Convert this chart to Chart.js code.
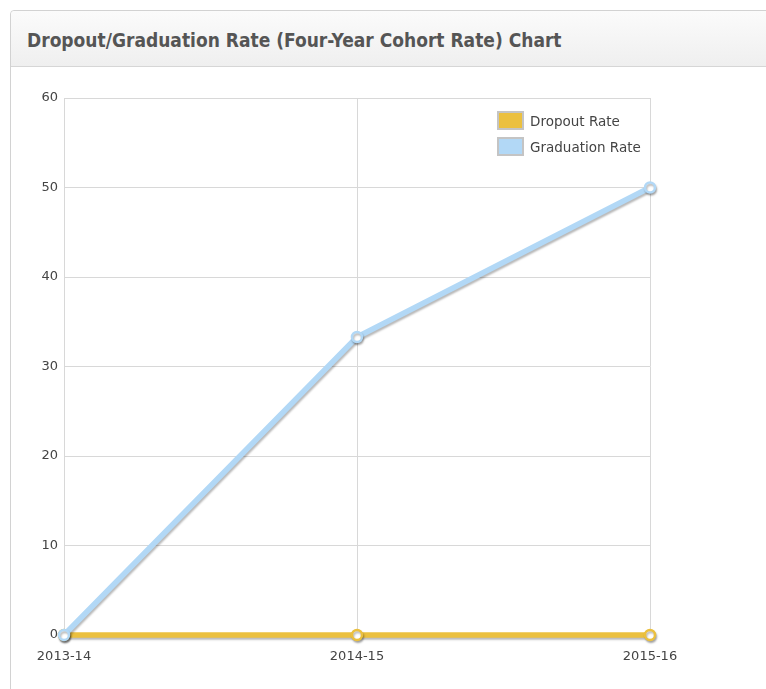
<!DOCTYPE html>
<html>
<head>
<meta charset="utf-8">
<script src="https://cdn.jsdelivr.net/npm/chart.js@4.4.1/dist/chart.umd.min.js"></script>
<style>
  html, body { margin: 0; padding: 0; background: #fff; width: 766px; height: 689px; overflow: hidden; }
  .panel { position: absolute; left: 10px; top: 10px; width: 800px; height: 720px;
           border: 1px solid #d2d2d2; border-radius: 4px; background: #fff; box-sizing: border-box; }
  .panel-head { height: 56px; border-bottom: 1px solid #d6d6d6; box-sizing: border-box;
                background: linear-gradient(#fbfbfb, #efefef); border-radius: 4px 4px 0 0; }
  .panel-head h3 { margin: 0; padding-left: 16px;
                   font: bold 19px "DejaVu Sans Condensed", "DejaVu Sans", sans-serif;
                   line-height: 58px; color: #555; }
  #wrap { position: absolute; left: 0; top: 56px; width: 755px; height: 622px; }
</style>
</head>
<body>
<div class="panel">
  <div class="panel-head"><h3>Dropout/Graduation Rate (Four-Year Cohort Rate) Chart</h3></div>
  <div id="wrap"><canvas id="chart"></canvas></div>
</div>
<script>
// School years on the x axis
const years = ['2013-14', '2014-15', '2015-16'];
// Percent rates per year
const dropoutRate = [0, 0, 0];
const graduationRate = [0, 33.3, 50];
// Y axis range
const yMin = 0, yMax = 60, yStep = 10;

const dropoutColor = '#ebc03f';
const graduationColor = '#b2d8f6';

// Soft drop shadow under lines and markers
const lineShadow = {
  id: 'lineShadow',
  beforeDatasetsDraw(chart) {
    const ctx = chart.ctx;
    ctx.save();
    ctx.shadowColor = 'rgba(0,0,0,0.28)';
    ctx.shadowBlur = 2;
    ctx.shadowOffsetX = 1;
    ctx.shadowOffsetY = 2;
  },
  afterDatasetsDraw(chart) {
    chart.ctx.restore();
  }
};

// Legend drawn inside the plot, top-right corner
const insideLegend = {
  id: 'insideLegend',
  afterDraw(chart) {
    const { ctx, chartArea } = chart;
    const left = chartArea.right - 152;
    let top = chartArea.top + 14;
    ctx.save();
    ctx.font = '13.5px "DejaVu Sans", sans-serif';
    ctx.textBaseline = 'middle';
    chart.data.datasets.forEach(ds => {
      ctx.fillStyle = ds.borderColor;
      ctx.fillRect(left, top, 25, 17);
      ctx.strokeStyle = '#c4c4c4';
      ctx.lineWidth = 2;
      ctx.strokeRect(left, top, 25, 17);
      ctx.fillStyle = '#444';
      ctx.fillText(ds.label, left + 32, top + 10);
      top += 26;
    });
    ctx.restore();
  }
};

new Chart(document.getElementById('chart'), {
  type: 'line',
  data: {
    labels: years,
    datasets: [
      {
        label: 'Dropout Rate',
        data: dropoutRate,
        borderColor: dropoutColor,
        backgroundColor: '#fff',
        borderWidth: 5.5,
        pointRadius: 5,
        pointBorderWidth: 2.5,
        pointBackgroundColor: '#fff',
        pointBorderColor: dropoutColor,
        tension: 0,
        order: 1
      },
      {
        label: 'Graduation Rate',
        data: graduationRate,
        borderColor: graduationColor,
        backgroundColor: '#fff',
        borderWidth: 5.5,
        pointRadius: 5,
        pointBorderWidth: 2.5,
        pointBackgroundColor: '#fff',
        pointBorderColor: graduationColor,
        tension: 0,
        order: 0
      }
    ]
  },
  options: {
    responsive: true,
    maintainAspectRatio: false,
    animation: false,
    clip: false,
    layout: { padding: { top: 31, right: 116, bottom: 0, left: 0 } },
    plugins: { legend: { display: false }, tooltip: { enabled: false } },
    scales: {
      x: {
        offset: false,
        grid: { color: '#d8d8d8', lineWidth: 1, drawTicks: false },
        border: { color: '#d8d8d8' },
        ticks: { color: '#444', font: { family: '"DejaVu Sans", sans-serif', size: 13 }, padding: 14, maxRotation: 0 },
        afterFit(scale) { scale.height = 54; }
      },
      y: {
        min: yMin, max: yMax,
        grid: { color: '#d8d8d8', lineWidth: 1, drawTicks: false },
        border: { color: '#d8d8d8' },
        ticks: { stepSize: yStep, color: '#444', font: { family: '"DejaVu Sans", sans-serif', size: 13 }, padding: 6 },
        afterFit(scale) { scale.width = 53; }
      }
    }
  },
  plugins: [lineShadow, insideLegend]
});
</script>
</body>
</html>
